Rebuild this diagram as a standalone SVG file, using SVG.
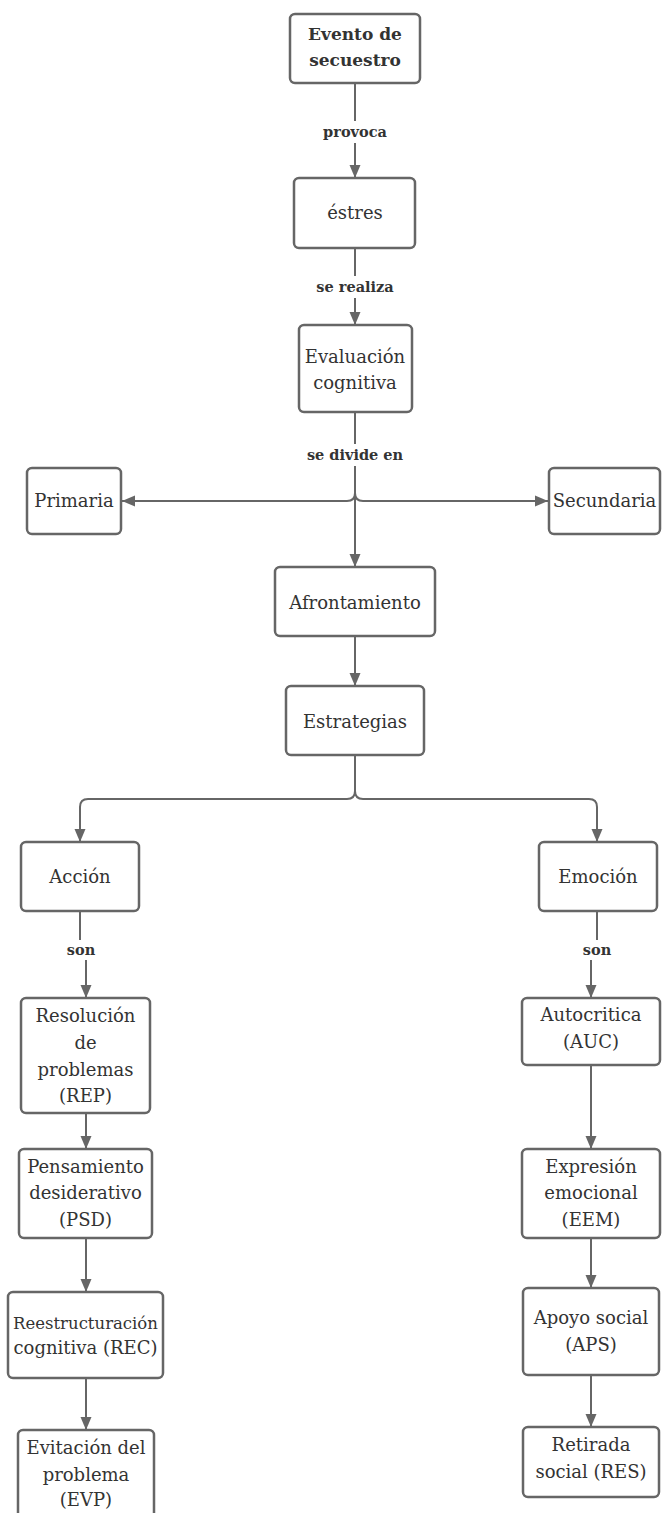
<svg xmlns="http://www.w3.org/2000/svg" width="662" height="1513" viewBox="0 0 662 1513">
<style>
.box{fill:#fff;stroke:#666;stroke-width:2.5}
.t{font-family:"DejaVu Serif","Liberation Serif",serif;font-size:18px;fill:#333;text-anchor:middle}
.tb{font-family:"DejaVu Serif","Liberation Serif",serif;font-size:17px;font-weight:bold;fill:#333;text-anchor:middle}
.lbl{font-family:"DejaVu Serif","Liberation Serif",serif;font-size:14.5px;font-weight:bold;fill:#333;text-anchor:middle}
.c{fill:none;stroke:#666;stroke-width:2}
.lb{fill:#fff}
</style>
<defs>
<marker id="ah" markerUnits="userSpaceOnUse" markerWidth="14" markerHeight="14" viewBox="0 0 14 14" refX="13" refY="7" orient="auto">
<path d="M0,1.5 L13,7 L0,12.5 Z" fill="#666"/>
</marker>
</defs>
<rect width="662" height="1513" fill="#fff"/>
<g id="connectors">
<path class="c" d="M355,83 V178" marker-end="url(#ah)"/>
<path class="c" d="M355,248 V325" marker-end="url(#ah)"/>
<path class="c" d="M355,412 V567" marker-end="url(#ah)"/>
<path class="c" d="M355,493 Q355,501 347,501 H122" marker-end="url(#ah)"/>
<path class="c" d="M355,493 Q355,501 363,501 H548" marker-end="url(#ah)"/>
<path class="c" d="M355,636 V686" marker-end="url(#ah)"/>
<path class="c" d="M355,755 V791 Q355,799 347,799 H88 Q80,799 80,807 V842" marker-end="url(#ah)"/>
<path class="c" d="M355,791 Q355,799 363,799 H589 Q597,799 597,807 V842" marker-end="url(#ah)"/>
<path class="c" d="M80,911 V950 H86 V998" marker-end="url(#ah)"/>
<path class="c" d="M597,911 V950 H591 V998" marker-end="url(#ah)"/>
<path class="c" d="M86,1113 V1149" marker-end="url(#ah)"/>
<path class="c" d="M86,1238 V1292" marker-end="url(#ah)"/>
<path class="c" d="M86,1378 V1430" marker-end="url(#ah)"/>
<path class="c" d="M591,1065 V1149" marker-end="url(#ah)"/>
<path class="c" d="M591,1238 V1288" marker-end="url(#ah)"/>
<path class="c" d="M591,1375 V1427" marker-end="url(#ah)"/>
<rect class="lb" x="320" y="121" width="70" height="22"/>
<text class="lbl" x="355" y="137">provoca</text>
<rect class="lb" x="310" y="276" width="90" height="22"/>
<text class="lbl" x="355" y="292">se realiza</text>
<rect class="lb" x="300" y="444" width="110" height="22"/>
<text class="lbl" x="355" y="460">se divide en</text>
<rect class="lb" x="62" y="940" width="38" height="20"/>
<text class="lbl" x="81" y="955">son</text>
<rect class="lb" x="578" y="940" width="38" height="20"/>
<text class="lbl" x="597" y="955">son</text>
</g>
<g id="n-evento"><rect class="box" x="290" y="14" width="130" height="69" rx="5"/><text class="tb" x="355" y="40">Evento de</text><text class="tb" x="355" y="66">secuestro</text></g>
<g id="n-estres"><rect class="box" x="294" y="178" width="121" height="70" rx="5"/><text class="t" x="355" y="219">éstres</text></g>
<g id="n-evaluacion"><rect class="box" x="299" y="325" width="113" height="87" rx="5"/><text class="t" x="355" y="363">Evaluación</text><text class="t" x="355" y="389">cognitiva</text></g>
<g id="n-primaria"><rect class="box" x="27" y="468" width="94" height="66" rx="5"/><text class="t" x="74" y="507">Primaria</text></g>
<g id="n-secundaria"><rect class="box" x="549" y="468" width="111" height="66" rx="5"/><text class="t" x="604.5" y="507">Secundaria</text></g>
<g id="n-afrontamiento"><rect class="box" x="275" y="567" width="160" height="69" rx="5"/><text class="t" x="355" y="609">Afrontamiento</text></g>
<g id="n-estrategias"><rect class="box" x="286" y="686" width="138" height="69" rx="5"/><text class="t" x="355" y="728">Estrategias</text></g>
<g id="n-accion"><rect class="box" x="21" y="842" width="118" height="69" rx="5"/><text class="t" x="80" y="883">Acción</text></g>
<g id="n-emocion"><rect class="box" x="539" y="842" width="118" height="69" rx="5"/><text class="t" x="598" y="883">Emoción</text></g>
<g id="n-rep"><rect class="box" x="21" y="998" width="129" height="115" rx="5"/><text class="t" x="85.5" y="1022">Resolución</text><text class="t" x="85.5" y="1049">de</text><text class="t" x="85.5" y="1076">problemas</text><text class="t" x="85.5" y="1102">(REP)</text></g>
<g id="n-psd"><rect class="box" x="19" y="1149" width="133" height="89" rx="5"/><text class="t" x="85.5" y="1173">Pensamiento</text><text class="t" x="85.5" y="1199">desiderativo</text><text class="t" x="85.5" y="1226">(PSD)</text></g>
<g id="n-rec"><rect class="box" x="8" y="1292" width="155" height="86" rx="5"/><text class="t" x="85.5" y="1329" style="font-size:16.5px">Reestructuración</text><text class="t" x="85.5" y="1354">cognitiva (REC)</text></g>
<g id="n-evp"><rect class="box" x="18" y="1430" width="136" height="95" rx="5"/><text class="t" x="86" y="1454">Evitación del</text><text class="t" x="86" y="1481">problema</text><text class="t" x="86" y="1506">(EVP)</text></g>
<g id="n-auc"><rect class="box" x="522" y="998" width="138" height="67" rx="5"/><text class="t" x="591" y="1021">Autocritica</text><text class="t" x="591" y="1048">(AUC)</text></g>
<g id="n-eem"><rect class="box" x="522" y="1149" width="138" height="89" rx="5"/><text class="t" x="591" y="1173">Expresión</text><text class="t" x="591" y="1199">emocional</text><text class="t" x="591" y="1226">(EEM)</text></g>
<g id="n-aps"><rect class="box" x="523" y="1288" width="136" height="87" rx="5"/><text class="t" x="591" y="1324">Apoyo social</text><text class="t" x="591" y="1351">(APS)</text></g>
<g id="n-res"><rect class="box" x="523" y="1427" width="136" height="70" rx="5"/><text class="t" x="591" y="1451">Retirada</text><text class="t" x="591" y="1478">social (RES)</text></g>
</svg>
